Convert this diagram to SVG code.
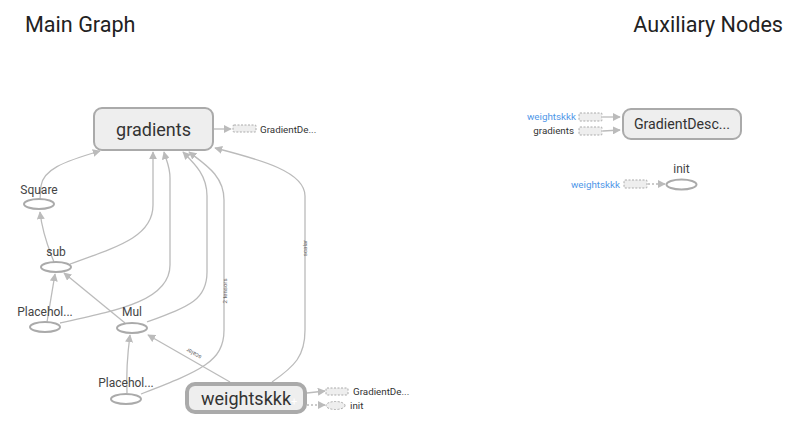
<svg xmlns="http://www.w3.org/2000/svg" width="799" height="443" viewBox="0 0 799 443">
<style>
text{font-family:Roboto,"Liberation Sans",sans-serif;fill:#333}
.title{font-size:21.6px;fill:#222}
.big{fill:#eee;stroke:#aaa;stroke-width:2}
.op{fill:#fff;stroke:#aaa;stroke-width:2}
.lbl{font-size:12px;text-anchor:middle;fill:#444}
.stub{fill:#eee;stroke:#aaa;stroke-width:1;stroke-dasharray:2,1.5}
.small{font-size:9.8px;fill:#333}
.blue{fill:#4f97e8}
.e{fill:none;stroke:#bbb;stroke-width:1.3}
.ed{fill:none;stroke:#bbb;stroke-width:1.3;stroke-dasharray:2,2}
.el{font-size:6px;fill:#666;text-anchor:middle}
</style>
<defs>
<marker id="ah" viewBox="0 0 10 10" refX="9" refY="5" markerWidth="8" markerHeight="8" markerUnits="userSpaceOnUse" orient="auto">
<path d="M0,0 L10,5 L0,10 z" fill="#bbb"/>
</marker>
</defs>
<rect width="799" height="443" fill="#fff"/>
<text class="title" x="25" y="32">Main Graph</text>
<text class="title" x="783" y="32" text-anchor="end">Auxiliary Nodes</text>

<g id="edges">
<path class="e" marker-end="url(#ah)" d="M40,199 L41,186 C43,170 62,162 100,151"/>
<path class="e" marker-end="url(#ah)" d="M54,262 C47,245 42,230 40,212"/>
<path class="e" marker-end="url(#ah)" d="M70,264 C120,246 153,236 153,205 L153,152"/>
<path class="e" marker-end="url(#ah)" d="M60,323 C120,310 170,300 170,265 L170,178 C170,166 166,160 164,152"/>
<path class="e" marker-end="url(#ah)" d="M147,322 C190,306 207,300 207,272 L207,196 C207,176 196,165 183,152"/>
<path class="e" marker-end="url(#ah)" d="M141,394 C200,371 224,362 224,330 L224,200 C224,176 206,165 189,152"/>
<path class="e" marker-end="url(#ah)" d="M272,382 C295,366 305,356 305,330 L305,196 C305,172 262,160 215,148"/>
<path class="e" marker-end="url(#ah)" d="M230,382 L148,335"/>
<path class="e" marker-end="url(#ah)" d="M125,323 L64,273"/>
<path class="e" marker-end="url(#ah)" d="M47,322 L55,274"/>
<path class="e" marker-end="url(#ah)" d="M127,393 C126,370 128,350 130,335"/>
<path class="e" marker-end="url(#ah)" d="M214,129 L231,129"/>
<path class="e" marker-end="url(#ah)" d="M307,393 L325,391"/>
<path class="ed" marker-end="url(#ah)" d="M307,405 L325,405"/>
<path class="e" marker-end="url(#ah)" d="M603,117 L620,117"/>
<path class="e" marker-end="url(#ah)" d="M603,131 L620,130"/>
<path class="ed" marker-end="url(#ah)" d="M648,184 L665,184"/>
<text class="el" transform="translate(227,291) rotate(-90)">2 tensors</text>
<text class="el" transform="translate(307,248) rotate(-90)">scalar</text>
<text class="el" transform="translate(195,352) rotate(-150.2)">scalar</text>
</g>

<g id="gradients">
<rect class="big" x="94" y="108" width="119" height="42" rx="8"/>
<text x="153.5" y="136" font-size="18" text-anchor="middle">gradients</text>
</g>
<g id="gradients-gd-stub">
<rect class="stub" x="233" y="125" width="23" height="7" rx="1"/>
<text class="small" x="260" y="133">GradientDe...</text>
</g>
<g id="Square">
<ellipse class="op" cx="39" cy="204" rx="15" ry="5"/>
<text class="lbl" x="39" y="194">Square</text>
</g>
<g id="sub">
<ellipse class="op" cx="56" cy="267" rx="15" ry="5"/>
<text class="lbl" x="56" y="256">sub</text>
</g>
<g id="Placeholder">
<ellipse class="op" cx="45" cy="327" rx="15" ry="5"/>
<text class="lbl" x="45" y="316">Placehol...</text>
</g>
<g id="Mul">
<ellipse class="op" cx="132" cy="328" rx="15" ry="5"/>
<text class="lbl" x="132" y="316">Mul</text>
</g>
<g id="Placeholder_1">
<ellipse class="op" cx="126" cy="399" rx="15" ry="5"/>
<text class="lbl" x="126" y="387">Placehol...</text>
</g>
<g id="weightskkk">
<rect x="187" y="384" width="118" height="28" rx="8" fill="#eee" stroke="#aaa" stroke-width="4"/>
<text x="246" y="405" font-size="18" text-anchor="middle">weightskkk</text>
<text x="294" y="405" font-size="11" text-anchor="middle" style="fill:#fff">+</text>
</g>
<g id="weightskkk-stubs">
<rect class="stub" x="326" y="388" width="22" height="7" rx="1"/>
<text class="small" x="353" y="395">GradientDe...</text>
<ellipse class="stub" cx="335.5" cy="405.5" rx="9.5" ry="4"/>
<text class="small" x="350" y="409">init</text>
</g>

<g id="GradientDescent">
<rect class="big" x="623" y="109" width="118" height="30" rx="8"/>
<text x="682" y="129" font-size="14.2" text-anchor="middle">GradientDesc...</text>
</g>
<g id="gd-inputs">
<text class="small blue" x="576" y="120" text-anchor="end" style="fill:#4f97e8">weightskkk</text>
<rect class="stub" x="579" y="113" width="23" height="8" rx="1"/>
<text class="small" x="574" y="134" text-anchor="end">gradients</text>
<rect class="stub" x="579" y="127" width="23" height="8" rx="1"/>
</g>
<g id="init">
<ellipse class="op" cx="681.5" cy="184.5" rx="15" ry="5"/>
<text class="lbl" x="681.5" y="173">init</text>
</g>
<g id="init-inputs">
<text class="small blue" x="620" y="188" text-anchor="end" style="fill:#4f97e8">weightskkk</text>
<rect class="stub" x="624" y="180" width="23" height="8" rx="1"/>
</g>
</svg>
